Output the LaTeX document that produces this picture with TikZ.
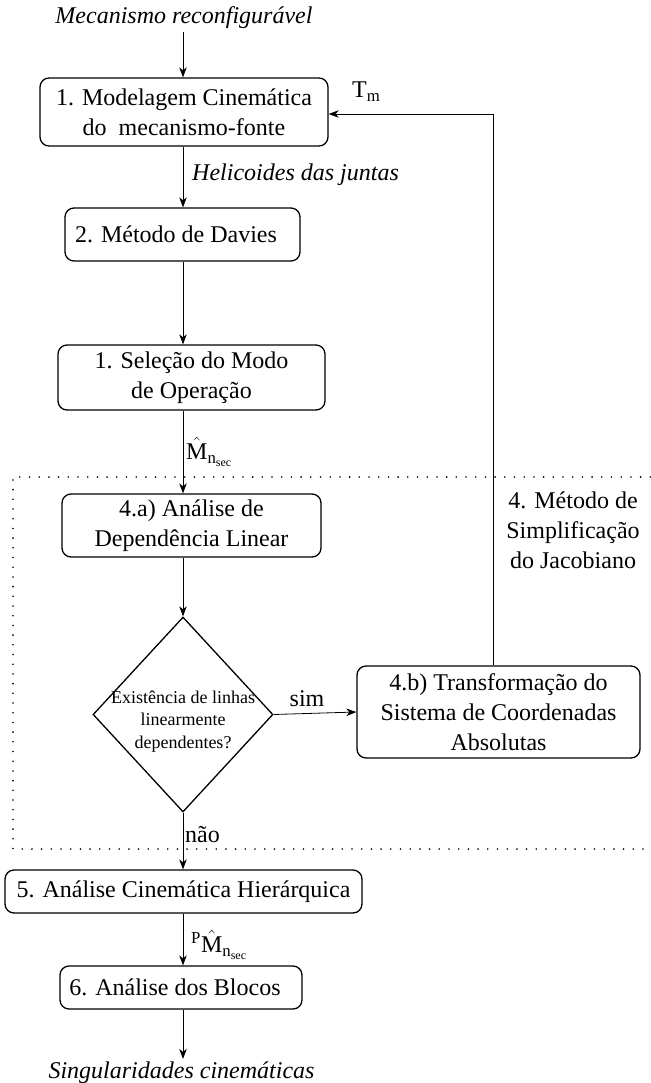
\documentclass[tikz,border=0pt]{standalone}
\usepackage{amsmath}
\usepackage{fontspec}
\setmainfont{LiberationSerif}[Extension=.ttf,UprightFont=*-Regular,ItalicFont=*-Italic,BoldFont=*-Bold,BoldItalicFont=*-BoldItalic]
\usetikzlibrary{shapes.geometric,arrows.meta}
\begin{document}
\begin{tikzpicture}[x=1pt,y=-1pt,
  txt/.style={font=\fontsize{24}{30}\selectfont},
  box/.style={draw,rounded corners=9pt,line width=1.3pt,inner sep=0pt,align=center,txt},
  arr/.style={-{Stealth[length=10pt,width=7.5pt,inset=3pt]},line width=0.8pt},
  lbl/.style={inner sep=0pt,txt},
  itl/.style={inner sep=0pt,font=\fontsize{24}{30}\selectfont\itshape},
  dec/.style={draw,shape=diamond,line width=1.3pt,minimum width=180pt,minimum height=195pt,inner sep=0pt},
  frame/.style={line width=1.8pt,line cap=round,dash pattern=on 0pt off 9.7pt}]
\useasboundingbox (0,0) rectangle (650,1083);
\coordinate (sp) at (183,0);
% dotted frame
\draw[frame] (660,477) -- (13,477) -- (13,849) -- (660,849);
% nodes
\node[itl,inner sep=3pt] (t0) at (184,18) {Mecanismo reconfigurável};
\node[box,minimum width=288pt,minimum height=68pt] (b1) at (184,112) {1. Modelagem Cinemática\\do\ \ mecanismo-fonte};
\node[box,minimum width=235pt,minimum height=53pt] (b2) at (182.5,234.5) {2. Método de Davies\hspace*{13pt}};
\node[box,minimum width=267pt,minimum height=65pt] (b3) at (191.5,377.5) {1. Seleção do Modo\\de Operação};
\node[box,minimum width=259pt,minimum height=63pt] (b4a) at (191.5,525.5) {4.a) Análise de\\Dependência Linear};
\node[dec] (d) at (183,714.5) {};
\node[inner sep=0pt,align=center,font=\fontsize{18}{22.5}\selectfont] (dt) at (183,721.5) {Existência de linhas\\linearmente\\dependentes?};
\node[box,minimum width=283pt,minimum height=92pt] (b4b) at (498.5,712) {4.b) Transformação do\\Sistema de Coordenadas\\Absolutas};
\node[box,minimum width=357pt,minimum height=43pt] (b5) at (183.5,891.5) {5. Análise Cinemática Hierárquica};
\node[box,minimum width=242pt,minimum height=43pt] (b6) at (181,987.5) {6. Análise dos Blocos\hspace*{12pt}};
\node[itl,inner sep=3pt] (t7) at (181.5,1073) {Singularidades cinemáticas};
% labels
\node[itl,anchor=west] (l1) at (192,175) {Helicoides das juntas};
\node[lbl,anchor=west] (l2) at (186,452) {$\hat{\text{M}}_{\text{n}_{\text{sec}}}$};
\node[lbl] (l3) at (307,699) {sim};
\node[lbl,anchor=west] (l4) at (185,835) {não};
\node[lbl,anchor=west] (l5) at (191,945) {${}^{\text{P}}\hat{\text{M}}_{\text{n}_{\text{sec}}}$};
\node[lbl,anchor=west] (l6) at (352,92) {T\textsubscript{m}};
\node[lbl,align=center] (l7) at (573,530) {4. Método de\\Simplificação\\do Jacobiano};
% connectors
\draw[arr] (sp |- t0.south) -- (sp |- b1.north);
\draw[arr] (sp |- b1.south) -- (sp |- b2.north);
\draw[arr] (sp |- b2.south) -- (sp |- b3.north);
\draw[arr] (sp |- b3.south) -- (sp |- b4a.north);
\draw[arr] (sp |- b4a.south) -- (d.north);
\draw[arr] (d.east) -- (b4b.west);
\draw[arr] (d.south) -- (sp |- b5.north);
\draw[arr] (sp |- b5.south) -- (sp |- b6.north);
\draw[arr] (sp |- b6.south) -- (sp |- t7.north);
\coordinate (fb) at (493,114);
\draw[arr] (fb |- b4b.north) -- (fb) -- (fb -| b1.east);
\end{tikzpicture}
\end{document}
